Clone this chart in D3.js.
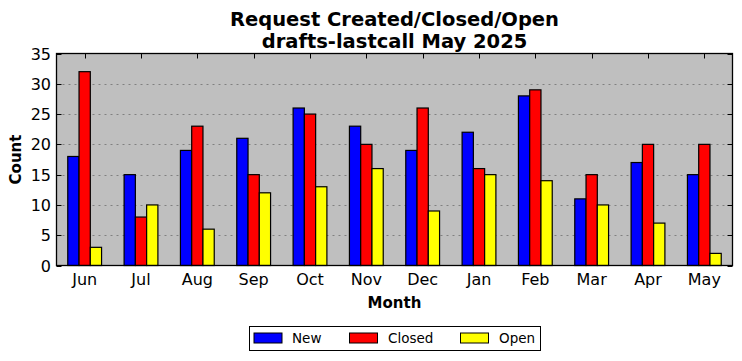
<!DOCTYPE html>
<html><head><meta charset="utf-8">
<script src="https://cdn.jsdelivr.net/npm/d3@7"></script>
<style>body{margin:0;background:#fff}svg{display:block}text{font-family:"DejaVu Sans",sans-serif}</style>
</head><body><svg id="c" width="742" height="361"></svg>
<script>
const months = ["Jun","Jul","Aug","Sep","Oct","Nov","Dec","Jan","Feb","Mar","Apr","May"];
const newVals = [18,15,19,21,26,23,19,22,28,11,17,15];
const closedVals = [32,8,23,15,25,20,26,16,29,15,20,20];
const openVals = [3,10,6,12,13,16,9,15,14,10,7,2];
const seriesNames = ["New","Closed","Open"];
const seriesColors = ["#0000ff","#ff0000","#ffff00"];
const yTicks = [0,5,10,15,20,25,30,35];
const titleLines = ["Request Created/Closed/Open","drafts-lastcall May 2025"];

const series = [newVals, closedVals, openVals];
const svg = d3.select("#c");
const L=56.5, R=732.5, T=53.5, B=265.5;
const x = d3.scaleBand().domain(months).range([L,R]).padding(0);
const y = d3.scaleLinear().domain([0,35]).range([B,T]);
const bw = x.bandwidth()*0.2;

svg.append("rect").attr("x",L).attr("y",T).attr("width",R-L).attr("height",B-T).attr("fill","#bfbfbf");
// grid
svg.append("g").selectAll("line").data(yTicks.filter(d=>d>0&&d<35)).join("line")
  .attr("x1",L).attr("x2",R).attr("y1",d=>Math.round(y(d))+0.5).attr("y2",d=>Math.round(y(d))+0.5)
  .attr("stroke","#808080").attr("stroke-width",1).attr("stroke-dasharray","2,4");
// ticks (inside)
const tk = svg.append("g").attr("stroke","#000").attr("stroke-width",1);
months.forEach(m=>{const cx=Math.round(x(m)+x.bandwidth()/2)+0.5;
  tk.append("line").attr("x1",cx).attr("x2",cx).attr("y1",T).attr("y2",T+5);
  tk.append("line").attr("x1",cx).attr("x2",cx).attr("y1",B).attr("y2",B-5);});
yTicks.forEach(v=>{const cy=Math.round(y(v))+0.5;
  tk.append("line").attr("x1",L).attr("x2",L+5).attr("y1",cy).attr("y2",cy);
  tk.append("line").attr("x1",R).attr("x2",R-5).attr("y1",cy).attr("y2",cy);});
// bars
series.forEach((vals,si)=>{
  svg.append("g").selectAll("rect").data(vals).join("rect")
    .attr("x",(d,i)=>x(months[i])+x.bandwidth()/2+(si-1.5)*bw)
    .attr("y",d=>y(d)).attr("width",bw).attr("height",d=>B-y(d))
    .attr("fill",seriesColors[si]).attr("stroke","#000").attr("stroke-width",1.2);
});
// frame
svg.append("rect").attr("x",L).attr("y",T).attr("width",R-L).attr("height",B-T).attr("fill","none").attr("stroke","#000").attr("stroke-width",1.3);
// tick labels
svg.append("g").selectAll("text").data(months).join("text")
  .attr("x",m=>x(m)+x.bandwidth()/2).attr("y",285).attr("text-anchor","middle").attr("font-size",16).text(d=>d);
svg.append("g").selectAll("text").data(yTicks).join("text")
  .attr("x",51).attr("y",d=>y(d)+6).attr("text-anchor","end").attr("font-size",16).text(d=>d);
// axis titles
svg.append("text").attr("x",(L+R)/2).attr("y",308).attr("text-anchor","middle").attr("font-size",15).attr("font-weight","bold").text("Month");
svg.append("text").attr("transform",`translate(21,${(T+B)/2}) rotate(-90)`).attr("text-anchor","middle").attr("font-size",15).attr("font-weight","bold").text("Count");
// title
titleLines.forEach((t,i)=>svg.append("text").attr("x",(L+R)/2).attr("y",26+i*22).attr("text-anchor","middle").attr("font-size",19.5).attr("font-weight","bold").text(t));
// legend
const lg = svg.append("g");
lg.append("rect").attr("x",249.5).attr("y",326.5).attr("width",291).attr("height",24).attr("fill","#fff").attr("stroke","#000").attr("stroke-width",1);
const lx=[254,349.5,460.5], tx=[292,388,499];
seriesNames.forEach((n,i)=>{
  lg.append("rect").attr("x",lx[i]).attr("y",333).attr("width",28).attr("height",10).attr("fill",seriesColors[i]).attr("stroke","#000").attr("stroke-width",1);
  lg.append("text").attr("x",tx[i]).attr("y",343).attr("font-size",13.5).text(n);
});
</script></body></html>
